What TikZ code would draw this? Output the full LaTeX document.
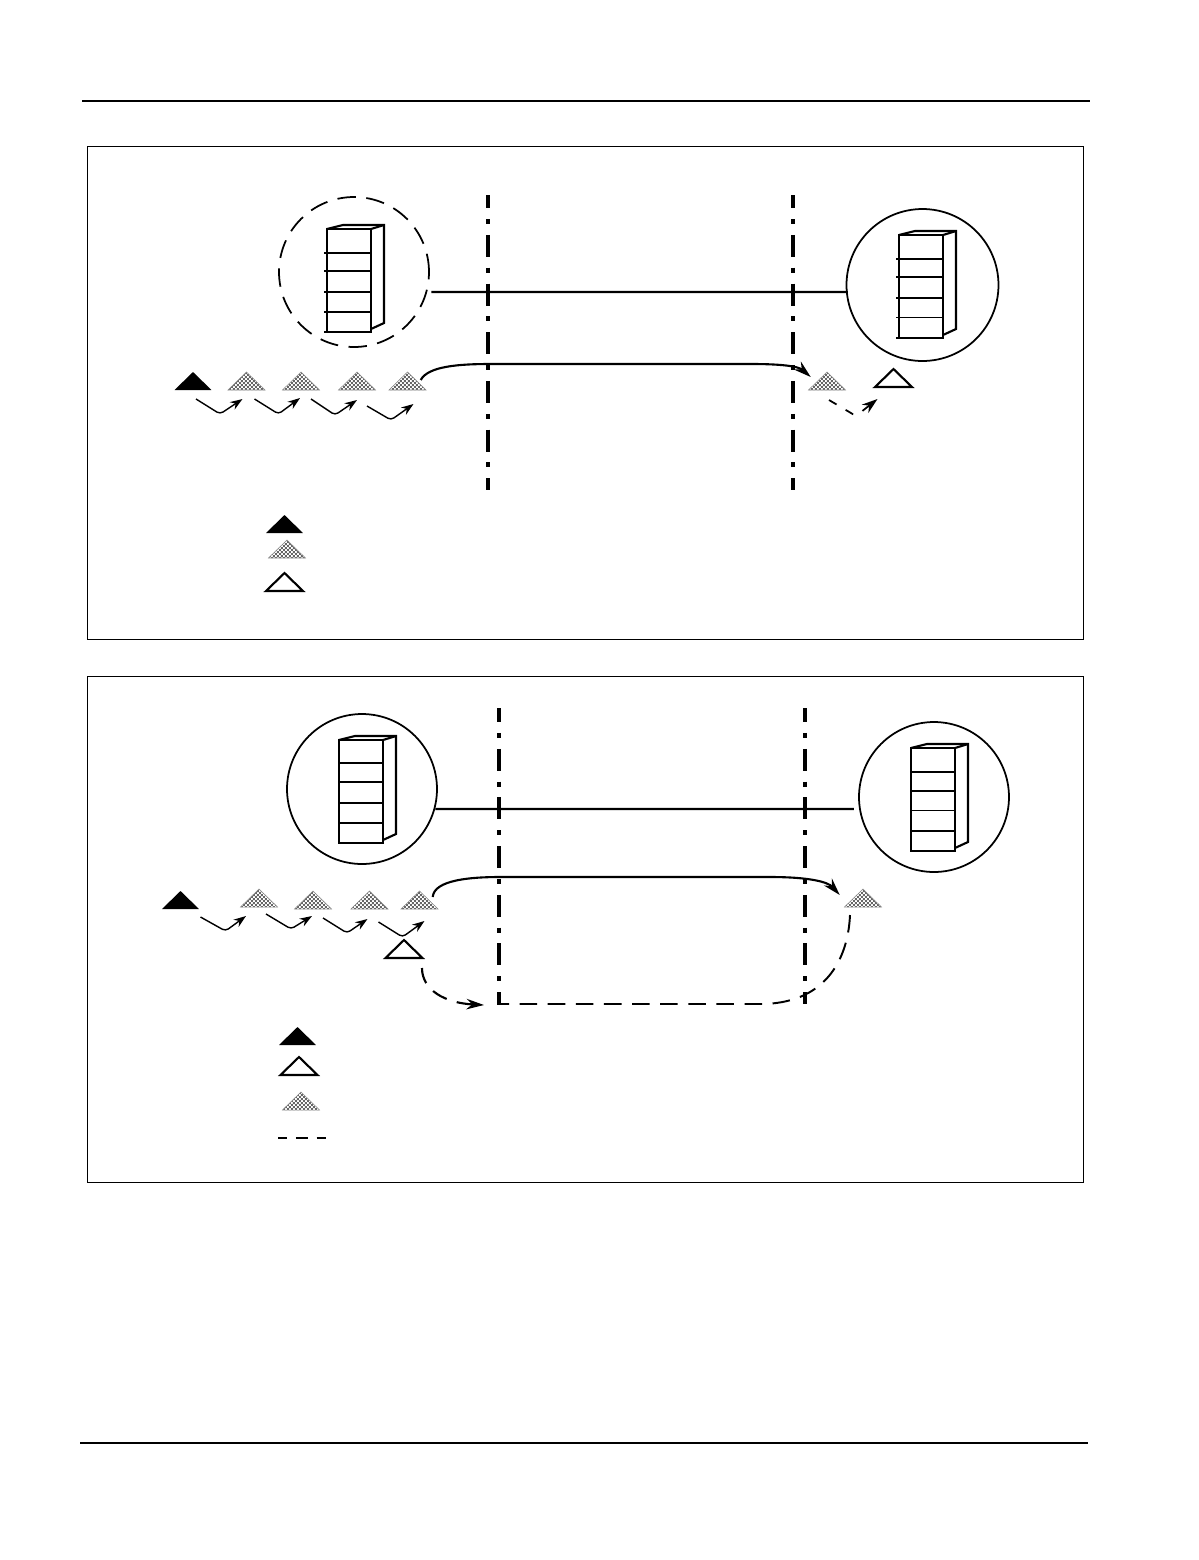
\documentclass[tikz,border=0pt]{standalone}
\usetikzlibrary{positioning, shapes.geometric, arrows.meta, patterns}
\definecolor{hatchGrey}{HTML}{888888}

\pgfdeclarepatternformonly{checker}{\pgfpointorigin}{\pgfqpoint{2.27pt}{2.27pt}}{\pgfqpoint{2.27pt}{2.27pt}}{%
  \pgfpathrectangle{\pgfpointorigin}{\pgfqpoint{1.135pt}{1.135pt}}%
  \pgfpathrectangle{\pgfqpoint{1.135pt}{1.135pt}}{\pgfqpoint{1.135pt}{1.135pt}}%
  \pgfusepath{fill}}

\tikzset{
  tri/.style={isosceles triangle, isosceles triangle stretches, shape border rotate=90,
    minimum width=0.74cm, minimum height=0.36cm, inner sep=0pt, outer sep=0pt, anchor=lower side},
  solidtri/.style={tri, fill=black},
  hatchtri/.style={tri, draw=hatchGrey, line width=0.3pt, pattern=checker, pattern color=black!60},
  opentri/.style={tri, draw=black, line width=1.2pt, fill=white},
  site/.style={circle, draw=black, line width=1pt, minimum size=3cm, inner sep=0pt, outer sep=0pt},
  downsite/.style={site, dash pattern=on 10.5pt off 6pt},
  fence/.style={line width=2.2pt, dash pattern=on 12.5pt off 6.2pt on 2.8pt off 6.2pt, dash phase=5pt},
  link/.style={line width=1.2pt},
  hop/.style={line width=0.8pt, rounded corners=2pt, -{Stealth[length=7pt, width=5pt]}},
  hopdash/.style={hop, line width=1pt, dash pattern=on 5pt off 6pt, -{Stealth[length=9pt, width=6pt]}},
  flow/.style={line width=1.2pt, -{Stealth[length=10pt, width=6pt]}},
  flowback/.style={line width=1.1pt, dash pattern=on 10pt off 6pt},
}

% x, y of the front top-left corner, overhang of the shelves, then the shelf heights
\newcommand{\cabinet}[4]{%
  \draw[line width=1.2pt] (#1,#2) rectangle ++(44,103);
  \draw[line width=1.2pt] (#1,#2) -- ++(16,-4) -- ++(41,0) -- ++(0,98) -- ++(-13,6);
  \draw[line width=1.2pt] (#1+44,#2) -- ++(13,-4);
  \draw[line width=1.2pt] (#1-#3,#2+103) -- ++(#3,0);
  \foreach \shelf in {#4} {
    \draw[line width=1.2pt] (#1-#3,#2+\shelf) -- ++(44+#3,0);
  }
}

\begin{document}
\begin{tikzpicture}[x=0.02cm, y=-0.02cm]
  \useasboundingbox (0,0) rectangle (1198,1560);

  \draw[line width=1.2pt] (82,101) -- (1090,101);
  \draw[line width=1.2pt] (80,1443) -- (1088,1443);
  \draw[line width=0.4pt] (87,146) rectangle (1083.5,639.5);
  \draw[line width=0.4pt] (87,676) rectangle (1083.5,1182.5);

  % upper panel
  \node[downsite] (srcA) at (354,272) {};
  \node[site, minimum size=3.04cm] (dstA) at (922.5,285) {};
  \cabinet{327}{229}{3}{24,42,63,83}
  \cabinet{899}{235}{3}{24,42,63}
  \draw[line width=0.5pt] (896,317) -- ++(47,0);

  \coordinate (fenceAtop) at (488,195);
  \coordinate (fenceAbot) at (488,490);
  \coordinate (fenceBtop) at (793,195);
  \coordinate (fenceBbot) at (793,490);
  \draw[fence] (fenceAtop) -- (fenceAbot);
  \draw[fence] (fenceBtop) -- (fenceBbot);
  \draw[link] ([shift={(5,0.6)}]srcA.345) -- ([shift={(1,0.4)}]dstA.185);

  \node[solidtri] (pktA) at (193,390) {};
  \node[hatchtri] (pktB) at (246.5,390) {};
  \node[hatchtri] (pktC) at (301,390) {};
  \node[hatchtri] (pktD) at (357,390) {};
  \node[hatchtri] (pktE) at (407.5,390) {};
  \node[hatchtri] (pktF) at (827,390) {};
  \node[opentri] (ackA) at (893.5,387) {};

  \draw[hop] ([shift={(3,9)}]pktA.lower side) -- ++(24,15) -- ([shift={(-4,9)}]pktB.lower side);
  \draw[hop] ([shift={(8,9)}]pktB.lower side) -- ++(24,15) -- ([shift={(-1,8)}]pktC.lower side);
  \draw[hop] ([shift={(10,9)}]pktC.lower side) -- ++(24,16) -- ([shift={(0,10)}]pktD.lower side);
  \draw[hop] ([shift={(10,16)}]pktD.lower side) -- ++(24,14) -- ([shift={(6,14)}]pktE.lower side);
  \draw[flow] ([shift={(4,-1)}]pktE.right side) .. controls (428,366) and (460,364) .. (490,364) -- (752,364)
    .. controls (780,364) and (798,366) .. ([shift={(-7,-4)}]pktF.left side);
  \draw[hopdash] ([shift={(2,10)}]pktF.lower side) -- ++(27,16) -- ([shift={(-16,12)}]ackA.lower side);

  \node[solidtri] (keyA) at (284.5,533) {};
  \node[hatchtri] (keyB) at (287,558) {};
  \node[opentri] (keyC) at (284.5,591) {};

  % lower panel
  \node[site] (srcB) at (362,789) {};
  \node[site] (dstB) at (934,797) {};
  \cabinet{339}{740}{0}{23,42,63,83}
  \cabinet{911}{748}{0}{24,43,83}
  \draw[line width=0.5pt] (911,810) -- ++(44,0);

  \coordinate (fenceCtop) at (499,708);
  \coordinate (fenceCbot) at (499,1004);
  \coordinate (fenceDtop) at (805,708);
  \coordinate (fenceDbot) at (805,1004);
  \draw[fence, dash phase=4.5pt] (fenceCtop) -- (fenceCbot);
  \draw[fence, dash phase=4.5pt] (fenceDtop) -- (fenceDbot);
  \draw[link] ([shift={(1,0.6)}]srcB.345) -- ([shift={(-6,0.3)}]dstB.189);

  \node[solidtri] (pktG) at (180.5,909) {};
  \node[hatchtri] (pktH) at (259,907) {};
  \node[hatchtri] (pktI) at (313,909) {};
  \node[hatchtri] (pktJ) at (369.5,909) {};
  \node[hatchtri] (pktK) at (419.5,909) {};
  \node[hatchtri] (pktL) at (863,907) {};
  \node[opentri] (ackB) at (404,958) {};
  \coordinate (retTurn) at (497,1004);

  \draw[hop] ([shift={(20,8)}]pktG.lower side) -- ++(25,14) -- ([shift={(-13,9)}]pktH.lower side);
  \draw[hop] ([shift={(7,7)}]pktH.lower side) -- ++(25,15) -- ([shift={(-1,7)}]pktI.lower side);
  \draw[hop] ([shift={(10,9)}]pktI.lower side) -- ++(24,15) -- ([shift={(-2,10)}]pktJ.lower side);
  \draw[hop] ([shift={(9,13)}]pktJ.lower side) -- ++(24,15) -- ([shift={(5,12)}]pktK.lower side);
  \draw[flow] ([shift={(4,-3)}]pktK.right side) .. controls (434,880) and (470,877) .. (500,877) -- (770,877)
    .. controls (810,877) and (828,882) .. ([shift={(-14,-3)}]pktL.left side);
  \draw[flowback] ([shift={(-13,8)}]pktL.lower side) .. controls (848,960) and (825,1004) .. (760,1004) -- (retTurn);
  \draw[flow, dash pattern=on 9pt off 6pt] ([shift={(18,10)}]ackB.lower side) .. controls (422,990) and (445,1003) .. (484,1005);

  \node[solidtri] (keyD) at (297.5,1045) {};
  \node[opentri] (keyE) at (299,1075) {};
  \node[hatchtri] (keyF) at (301,1110) {};
  \coordinate (keyDashL) at (278,1138);
  \coordinate (keyDashR) at (326,1138);
  \draw[line width=1.2pt, dash pattern=on 5.2pt off 5pt on 6.8pt off 5pt] (keyDashL) -- (keyDashR);
\end{tikzpicture}
\end{document}
